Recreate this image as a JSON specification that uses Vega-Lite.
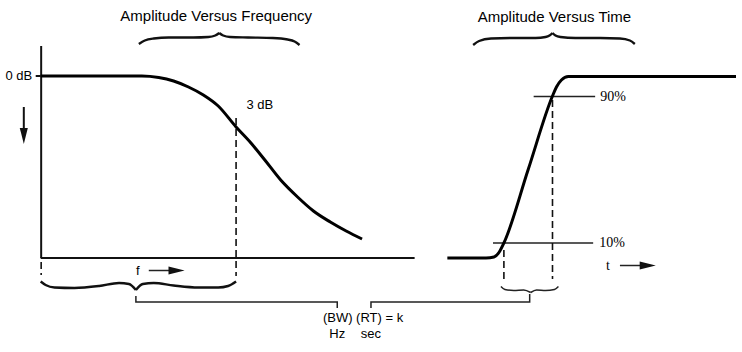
{
  "$schema": "https://vega.github.io/schema/vega-lite/v6.json",
  "width": 742,
  "height": 352,
  "padding": 0,
  "autosize": {"type": "fit", "contains": "padding"},
  "background": "white",
  "config": {"view": {"stroke": null}},
  "datasets": {
    "thick": [
      {"g": "freq", "i": 0, "x": 41, "y": 76},
      {"g": "freq", "i": 1, "x": 143, "y": 76},
      {"g": "freq", "i": 2, "x": 160, "y": 77.5},
      {"g": "freq", "i": 3, "x": 175, "y": 81},
      {"g": "freq", "i": 4, "x": 190, "y": 87},
      {"g": "freq", "i": 5, "x": 205, "y": 95},
      {"g": "freq", "i": 6, "x": 220, "y": 106},
      {"g": "freq", "i": 7, "x": 238, "y": 127},
      {"g": "freq", "i": 8, "x": 253, "y": 143},
      {"g": "freq", "i": 9, "x": 267, "y": 160},
      {"g": "freq", "i": 10, "x": 283, "y": 180},
      {"g": "freq", "i": 11, "x": 300, "y": 197},
      {"g": "freq", "i": 12, "x": 316, "y": 211},
      {"g": "freq", "i": 13, "x": 333, "y": 222},
      {"g": "freq", "i": 14, "x": 349, "y": 231},
      {"g": "freq", "i": 15, "x": 365, "y": 239},
      {"g": "step", "i": 0, "x": 451, "y": 258},
      {"g": "step", "i": 1, "x": 490, "y": 258},
      {"g": "step", "i": 2, "x": 498, "y": 257},
      {"g": "step", "i": 3, "x": 503, "y": 252.5},
      {"g": "step", "i": 4, "x": 508, "y": 243},
      {"g": "step", "i": 5, "x": 532.5, "y": 169.5},
      {"g": "step", "i": 6, "x": 557, "y": 96},
      {"g": "step", "i": 7, "x": 561, "y": 87},
      {"g": "step", "i": 8, "x": 566, "y": 80},
      {"g": "step", "i": 9, "x": 573, "y": 76.5},
      {"g": "step", "i": 10, "x": 742, "y": 76.5}
    ],
    "axes": [
      {"g": "v", "i": 0, "x": 41.5, "y": 46},
      {"g": "v", "i": 1, "x": 41.5, "y": 258},
      {"g": "h", "i": 0, "x": 41, "y": 258},
      {"g": "h", "i": 1, "x": 418, "y": 258},
      {"g": "tick", "i": 0, "x": 36, "y": 76},
      {"g": "tick", "i": 1, "x": 41, "y": 76},
      {"g": "arrD", "i": 0, "x": 24, "y": 107},
      {"g": "arrD", "i": 1, "x": 24, "y": 132}
    ],
    "thin": [
      {"g": "p90", "i": 0, "x": 538, "y": 96.5},
      {"g": "p90", "i": 1, "x": 600, "y": 96.5},
      {"g": "p10", "i": 0, "x": 497, "y": 243},
      {"g": "p10", "i": 1, "x": 598, "y": 243},
      {"g": "conL", "i": 0, "x": 137, "y": 296},
      {"g": "conL", "i": 1, "x": 137, "y": 302},
      {"g": "conL", "i": 2, "x": 340, "y": 302},
      {"g": "conL", "i": 3, "x": 340, "y": 308},
      {"g": "conR", "i": 0, "x": 534, "y": 294},
      {"g": "conR", "i": 1, "x": 534, "y": 302},
      {"g": "conR", "i": 2, "x": 374, "y": 302},
      {"g": "conR", "i": 3, "x": 374, "y": 308},
      {"g": "arrF", "i": 0, "x": 150, "y": 270.5},
      {"g": "arrF", "i": 1, "x": 174, "y": 270.5},
      {"g": "arrT", "i": 0, "x": 625, "y": 265.5},
      {"g": "arrT", "i": 1, "x": 649, "y": 265.5}
    ],
    "dashed": [
      {"g": "d1", "i": 0, "x": 238, "y": 118},
      {"g": "d1", "i": 1, "x": 238, "y": 276},
      {"g": "d0", "i": 0, "x": 41.5, "y": 262},
      {"g": "d0", "i": 1, "x": 41.5, "y": 275},
      {"g": "d2", "i": 0, "x": 508, "y": 250},
      {"g": "d2", "i": 1, "x": 508, "y": 279},
      {"g": "d3", "i": 0, "x": 557, "y": 100},
      {"g": "d3", "i": 1, "x": 557, "y": 279}
    ],
    "braces": [
      {"g": "tf1", "i": 0, "x": 140, "y": 44},
      {"g": "tf1", "i": 1, "x": 146, "y": 40.5},
      {"g": "tf1", "i": 2, "x": 155, "y": 38.5},
      {"g": "tf1", "i": 3, "x": 170, "y": 37.5},
      {"g": "tf1", "i": 4, "x": 195, "y": 37.5},
      {"g": "tf1", "i": 5, "x": 210, "y": 37},
      {"g": "tf1", "i": 6, "x": 217, "y": 35.5},
      {"g": "tf1", "i": 7, "x": 221, "y": 33},
      {"g": "tf2", "i": 0, "x": 221, "y": 33},
      {"g": "tf2", "i": 1, "x": 225, "y": 35.5},
      {"g": "tf2", "i": 2, "x": 232, "y": 37},
      {"g": "tf2", "i": 3, "x": 250, "y": 37.5},
      {"g": "tf2", "i": 4, "x": 275, "y": 38},
      {"g": "tf2", "i": 5, "x": 290, "y": 39.5},
      {"g": "tf2", "i": 6, "x": 297, "y": 41.5},
      {"g": "tf2", "i": 7, "x": 302, "y": 45},
      {"g": "tt1", "i": 0, "x": 477, "y": 45},
      {"g": "tt1", "i": 1, "x": 483, "y": 41},
      {"g": "tt1", "i": 2, "x": 495, "y": 38.5},
      {"g": "tt1", "i": 3, "x": 515, "y": 38},
      {"g": "tt1", "i": 4, "x": 540, "y": 38},
      {"g": "tt1", "i": 5, "x": 550, "y": 37},
      {"g": "tt1", "i": 6, "x": 554, "y": 35.5},
      {"g": "tt1", "i": 7, "x": 557, "y": 33},
      {"g": "tt2", "i": 0, "x": 557, "y": 33},
      {"g": "tt2", "i": 1, "x": 560, "y": 35.5},
      {"g": "tt2", "i": 2, "x": 565, "y": 37},
      {"g": "tt2", "i": 3, "x": 580, "y": 38},
      {"g": "tt2", "i": 4, "x": 605, "y": 38},
      {"g": "tt2", "i": 5, "x": 625, "y": 38.5},
      {"g": "tt2", "i": 6, "x": 635, "y": 40.5},
      {"g": "tt2", "i": 7, "x": 640, "y": 44},
      {"g": "bf1", "i": 0, "x": 41, "y": 281.5},
      {"g": "bf1", "i": 1, "x": 46, "y": 285},
      {"g": "bf1", "i": 2, "x": 55, "y": 287.5},
      {"g": "bf1", "i": 3, "x": 75, "y": 288},
      {"g": "bf1", "i": 4, "x": 100, "y": 286},
      {"g": "bf1", "i": 5, "x": 120, "y": 283},
      {"g": "bf1", "i": 6, "x": 130, "y": 284},
      {"g": "bf1", "i": 7, "x": 137, "y": 290},
      {"g": "bf2", "i": 0, "x": 137, "y": 290},
      {"g": "bf2", "i": 1, "x": 144, "y": 284},
      {"g": "bf2", "i": 2, "x": 155, "y": 283},
      {"g": "bf2", "i": 3, "x": 175, "y": 285.5},
      {"g": "bf2", "i": 4, "x": 200, "y": 287.5},
      {"g": "bf2", "i": 5, "x": 220, "y": 287.5},
      {"g": "bf2", "i": 6, "x": 230, "y": 286},
      {"g": "bf2", "i": 7, "x": 238, "y": 281.5}
    ],
    "smallbrace": [
      {"g": "s1", "i": 0, "x": 505, "y": 286.5},
      {"g": "s1", "i": 1, "x": 509, "y": 289.5},
      {"g": "s1", "i": 2, "x": 518, "y": 290.5},
      {"g": "s1", "i": 3, "x": 528, "y": 290},
      {"g": "s1", "i": 4, "x": 535, "y": 292.5},
      {"g": "s2", "i": 0, "x": 535, "y": 292.5},
      {"g": "s2", "i": 1, "x": 541, "y": 290},
      {"g": "s2", "i": 2, "x": 550, "y": 290.5},
      {"g": "s2", "i": 3, "x": 559, "y": 289.5},
      {"g": "s2", "i": 4, "x": 563, "y": 286.5}
    ],
    "heads": [
      {"dir": "down", "x": 24, "y": 136},
      {"dir": "right", "x": 178, "y": 270.5},
      {"dir": "right", "x": 653, "y": 265.5}
    ],
    "titles": [
      {"t": "Amplitude Versus Frequency", "x": 218, "y": 16},
      {"t": "Amplitude Versus Time", "x": 559, "y": 17}
    ],
    "labels": [
      {"t": "0 dB", "x": 19, "y": 76},
      {"t": "3 dB", "x": 262, "y": 105},
      {"t": "f", "x": 139, "y": 271},
      {"t": "(BW) (RT) = k", "x": 366, "y": 318},
      {"t": "Hz", "x": 340, "y": 334},
      {"t": "sec", "x": 374, "y": 334}
    ],
    "serif": [
      {"t": "90%", "x": 618, "y": 97},
      {"t": "10%", "x": 617, "y": 243},
      {"t": "t", "x": 613, "y": 266}
    ]
  },
  "encoding": {
    "x": {"field": "x", "type": "quantitative", "scale": {"domain": [0, 742], "nice": false, "zero": false}, "axis": null},
    "y": {"field": "y", "type": "quantitative", "scale": {"domain": [0, 352], "nice": false, "zero": false, "reverse": true}, "axis": null}
  },
  "layer": [
    {
      "data": {"name": "axes"},
      "mark": {"type": "line", "color": "#111", "strokeWidth": 2},
      "encoding": {"detail": {"field": "g"}, "order": {"field": "i", "type": "quantitative"}}
    },
    {
      "data": {"name": "thin"},
      "mark": {"type": "line", "color": "#222", "strokeWidth": 1.5},
      "encoding": {"detail": {"field": "g"}, "order": {"field": "i", "type": "quantitative"}}
    },
    {
      "data": {"name": "dashed"},
      "mark": {"type": "line", "color": "#111", "strokeWidth": 1.6, "strokeDash": [7, 4]},
      "encoding": {"detail": {"field": "g"}, "order": {"field": "i", "type": "quantitative"}}
    },
    {
      "data": {"name": "thick"},
      "mark": {"type": "line", "color": "#000", "strokeWidth": 3, "interpolate": "monotone"},
      "encoding": {"detail": {"field": "g"}, "order": {"field": "i", "type": "quantitative"}}
    },
    {
      "data": {"name": "braces"},
      "mark": {"type": "line", "color": "#111", "strokeWidth": 2.4, "interpolate": "monotone"},
      "encoding": {"detail": {"field": "g"}, "order": {"field": "i", "type": "quantitative"}}
    },
    {
      "data": {"name": "smallbrace"},
      "mark": {"type": "line", "color": "#222", "strokeWidth": 1.5, "interpolate": "monotone"},
      "encoding": {"detail": {"field": "g"}, "order": {"field": "i", "type": "quantitative"}}
    },
    {
      "data": {"name": "heads"},
      "mark": {"type": "point", "filled": true, "color": "#111", "opacity": 1, "size": 260},
      "encoding": {
        "shape": {"field": "dir", "type": "nominal", "legend": null,
          "scale": {"domain": ["down", "right"], "range": ["M-0.5,-1L0.5,-1L0,1Z", "M-1,-0.5L1,0L-1,0.5Z"]}}
      }
    },
    {
      "data": {"name": "titles"},
      "mark": {"type": "text", "font": "Liberation Sans", "fontSize": 15, "color": "#000", "align": "center", "baseline": "middle"},
      "encoding": {"text": {"field": "t"}}
    },
    {
      "data": {"name": "labels"},
      "mark": {"type": "text", "font": "Liberation Sans", "fontSize": 13, "color": "#000", "align": "center", "baseline": "middle"},
      "encoding": {"text": {"field": "t"}}
    },
    {
      "data": {"name": "serif"},
      "mark": {"type": "text", "font": "Liberation Serif", "fontSize": 14, "color": "#000", "align": "center", "baseline": "middle"},
      "encoding": {"text": {"field": "t"}}
    }
  ]
}
